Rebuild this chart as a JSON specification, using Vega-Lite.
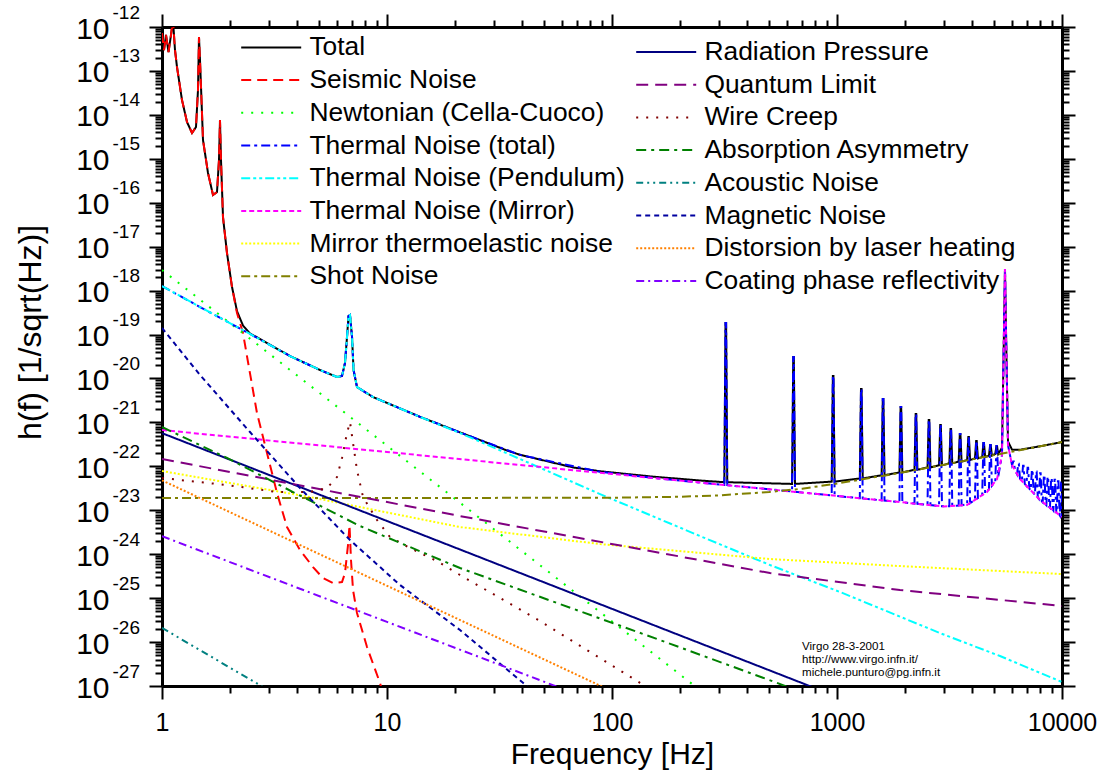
{
"$schema": "https://vega.github.io/schema/vega-lite/v6.json",
"width": 900, "height": 659,
"autosize": {"type": "none"},
"padding": {"left": 162, "top": 27, "right": 42, "bottom": 91},
"background": "white",
"config": {"font": "Liberation Sans", "view": {"stroke": null}, "axis": {"grid": false, "domainColor": "black", "tickColor": "black", "labelColor": "black", "titleColor": "black", "zindex": 1}},
"datasets": {
"g1": [
{"s":"Total","f":1,"h":7.3e-13},{"s":"Total","f":1.0207,"h":2.99e-13},{"s":"Total","f":1.0418,"h":6.58e-13},{"s":"Total","f":1.0688,"h":2.70e-13},{"s":"Total","f":1.0965,"h":6.58e-13},{"s":"Total","f":1.119,"h":1.44e-12},{"s":"Total","f":1.1422,"h":2.99e-13},{"s":"Total","f":1.1659,"h":1.23e-13},{"s":"Total","f":1.227,"h":2.18e-14},{"s":"Total","f":1.2915,"h":6.88e-15},{"s":"Total","f":1.3594,"h":3.86e-15},{"s":"Total","f":1.4161,"h":5.29e-15},{"s":"Total","f":1.4454,"h":3.68e-14},{"s":"Total","f":1.4603,"h":5.92e-13},{"s":"Total","f":1.4753,"h":1.77e-13},{"s":"Total","f":1.4982,"h":2.18e-14},{"s":"Total","f":1.5213,"h":2.68e-15},{"s":"Total","f":1.6013,"h":4.75e-16},{"s":"Total","f":1.6853,"h":1.50e-16},{"s":"Total","f":1.7556,"h":1.75e-16},{"s":"Total","f":1.7919,"h":9.38e-16},{"s":"Total","f":1.8103,"h":7.64e-15},{"s":"Total","f":1.8289,"h":9.38e-16},{"s":"Total","f":1.8667,"h":4.73e-17},{"s":"Total","f":1.9446,"h":7.17e-18},{"s":"Total","f":2.0468,"h":1.22e-18},{"s":"Total","f":2.1544,"h":3.4e-19},{"s":"Total","f":2.2909,"h":1.6e-19},{"s":"Total","f":2.4604,"h":1.06e-19},{"s":"Total","f":3.7055,"h":3.24e-20},{"s":"Total","f":5.0372,"h":1.56e-20},{"s":"Total","f":5.9948,"h":1.08e-20},{"s":"Total","f":6.3096,"h":1.14e-20},{"s":"Total","f":6.506,"h":2.25e-20},{"s":"Total","f":6.6418,"h":8.78e-20},{"s":"Total","f":6.7444,"h":2.64e-19},{"s":"Total","f":6.848,"h":2.78e-19},{"s":"Total","f":6.992,"h":8.78e-20},{"s":"Total","f":7.1007,"h":1.56e-20},{"s":"Total","f":7.3564,"h":6.38e-21},{"s":"Total","f":8.6638,"h":3.78e-21},{"s":"Total","f":14.017,"h":1.34e-21},{"s":"Total","f":21.108,"h":5.92e-22},{"s":"Total","f":34.1,"h":2.3e-22},{"s":"Total","f":39.007,"h":1.83e-22},{"s":"Total","f":67.1,"h":9.45e-23},{"s":"Total","f":88.44,"h":7.73e-23},{"s":"Total","f":150,"h":5.86e-23},{"s":"Total","f":246,"h":4.76e-23},
{"s":"Total","f":315.7,"h":4.35e-23},{"s":"Total","f":319.5,"h":1.83e-19},{"s":"Total","f":321.5,"h":1.83e-19},{"s":"Total","f":325.3,"h":4.35e-23},
{"s":"Total","f":631.4,"h":3.98e-23},{"s":"Total","f":639.1,"h":3.08e-20},{"s":"Total","f":642.9,"h":3.08e-20},{"s":"Total","f":650.6,"h":3.98e-23},
{"s":"Total","f":947.1,"h":4.48e-23},{"s":"Total","f":958.6,"h":1.14e-20},{"s":"Total","f":964.4,"h":1.14e-20},{"s":"Total","f":975.9,"h":4.48e-23},
{"s":"Total","f":1262.8,"h":5.3e-23},{"s":"Total","f":1278.2,"h":5.75e-21},{"s":"Total","f":1285.8,"h":5.75e-21},{"s":"Total","f":1301.2,"h":5.3e-23},
{"s":"Total","f":1578.5,"h":6.26e-23},{"s":"Total","f":1597.7,"h":3.4e-21},{"s":"Total","f":1607.3,"h":3.4e-21},{"s":"Total","f":1626.5,"h":6.26e-23},
{"s":"Total","f":1894.2,"h":7.29e-23},{"s":"Total","f":1917.2,"h":2.24e-21},{"s":"Total","f":1928.8,"h":2.24e-21},{"s":"Total","f":1951.8,"h":7.29e-23},
{"s":"Total","f":2209.8,"h":8.35e-23},{"s":"Total","f":2236.8,"h":1.55e-21},{"s":"Total","f":2250.2,"h":1.55e-21},{"s":"Total","f":2277.2,"h":8.35e-23},
{"s":"Total","f":2525.5,"h":9.44e-23},{"s":"Total","f":2556.3,"h":1.13e-21},{"s":"Total","f":2571.7,"h":1.13e-21},{"s":"Total","f":2602.5,"h":9.44e-23},
{"s":"Total","f":2841.2,"h":1.055e-22},{"s":"Total","f":2875.8,"h":8.71e-22},{"s":"Total","f":2893.2,"h":8.71e-22},{"s":"Total","f":2927.8,"h":1.055e-22},
{"s":"Total","f":3156.9,"h":1.167e-22},{"s":"Total","f":3195.4,"h":7.06e-22},{"s":"Total","f":3214.6,"h":7.06e-22},{"s":"Total","f":3253.1,"h":1.167e-22},
{"s":"Total","f":3472.6,"h":1.28e-22},{"s":"Total","f":3514.9,"h":5.43e-22},{"s":"Total","f":3536.1,"h":5.43e-22},{"s":"Total","f":3578.4,"h":1.28e-22},
{"s":"Total","f":3788.3,"h":1.394e-22},{"s":"Total","f":3834.5,"h":4.64e-22},{"s":"Total","f":3857.5,"h":4.64e-22},{"s":"Total","f":3903.7,"h":1.394e-22},
{"s":"Total","f":4104,"h":1.511e-22},{"s":"Total","f":4154,"h":3.77e-22},{"s":"Total","f":4179,"h":3.77e-22},{"s":"Total","f":4229,"h":1.511e-22},
{"s":"Total","f":4419.7,"h":1.63e-22},{"s":"Total","f":4473.5,"h":3.39e-22},{"s":"Total","f":4500.5,"h":3.39e-22},{"s":"Total","f":4554.3,"h":1.63e-22},
{"s":"Total","f":4735.4,"h":1.758e-22},{"s":"Total","f":4793.1,"h":3.05e-22},{"s":"Total","f":4821.9,"h":3.05e-22},{"s":"Total","f":4879.6,"h":1.758e-22},
{"s":"Total","f":5051.1,"h":1.909e-22},{"s":"Total","f":5112.6,"h":2.9e-22},{"s":"Total","f":5143.4,"h":2.9e-22},{"s":"Total","f":5204.9,"h":1.909e-22},
{"s":"Total","f":5412,"h":2.65e-22},{"s":"Total","f":5524,"h":1.27e-19},{"s":"Total","f":5580,"h":3.1e-18},{"s":"Total","f":5637,"h":1.27e-19},{"s":"Total","f":5754,"h":3.68e-22},{"s":"Total","f":5995,"h":2.4e-22},{"s":"Total","f":6508,"h":2.39e-22},{"s":"Total","f":7986,"h":2.86e-22},{"s":"Total","f":10000,"h":3.57e-22},

{"s":"Seismic Noise","f":1,"h":7.3e-13},{"s":"Seismic Noise","f":1.0207,"h":2.99e-13},{"s":"Seismic Noise","f":1.0418,"h":6.58e-13},{"s":"Seismic Noise","f":1.0688,"h":2.70e-13},{"s":"Seismic Noise","f":1.0965,"h":6.58e-13},{"s":"Seismic Noise","f":1.119,"h":1.44e-12},{"s":"Seismic Noise","f":1.1422,"h":2.99e-13},{"s":"Seismic Noise","f":1.1659,"h":1.23e-13},{"s":"Seismic Noise","f":1.227,"h":2.18e-14},{"s":"Seismic Noise","f":1.2915,"h":6.88e-15},{"s":"Seismic Noise","f":1.3594,"h":3.86e-15},{"s":"Seismic Noise","f":1.4161,"h":5.29e-15},{"s":"Seismic Noise","f":1.4454,"h":3.68e-14},{"s":"Seismic Noise","f":1.4603,"h":5.92e-13},{"s":"Seismic Noise","f":1.4753,"h":1.77e-13},{"s":"Seismic Noise","f":1.4982,"h":2.18e-14},{"s":"Seismic Noise","f":1.5213,"h":2.68e-15},{"s":"Seismic Noise","f":1.6013,"h":4.75e-16},{"s":"Seismic Noise","f":1.6853,"h":1.50e-16},{"s":"Seismic Noise","f":1.7556,"h":1.75e-16},{"s":"Seismic Noise","f":1.7919,"h":9.38e-16},{"s":"Seismic Noise","f":1.8103,"h":7.64e-15},{"s":"Seismic Noise","f":1.8289,"h":9.38e-16},{"s":"Seismic Noise","f":1.8667,"h":4.73e-17},{"s":"Seismic Noise","f":1.9446,"h":7.17e-18},{"s":"Seismic Noise","f":2.0468,"h":1.21e-18},{"s":"Seismic Noise","f":2.1544,"h":3.09e-19},{"s":"Seismic Noise","f":2.2909,"h":1.08e-19},{"s":"Seismic Noise","f":2.4112,"h":2.37e-20},{"s":"Seismic Noise","f":2.6436,"h":1.63e-21},{"s":"Seismic Noise","f":2.9286,"h":2.01e-22},{"s":"Seismic Noise","f":3.2443,"h":2.47e-23},{"s":"Seismic Noise","f":3.5938,"h":4.15e-24},{"s":"Seismic Noise","f":4.1065,"h":1.24e-24},{"s":"Seismic Noise","f":4.6912,"h":5.1e-25},{"s":"Seismic Noise","f":5.1962,"h":2.86e-25},{"s":"Seismic Noise","f":5.7544,"h":2.2e-25},{"s":"Seismic Noise","f":6.3096,"h":2.32e-25},{"s":"Seismic Noise","f":6.506,"h":3.72e-25},{"s":"Seismic Noise","f":6.71,"h":1.62e-24},{"s":"Seismic Noise","f":6.8129,"h":4.61e-24},{"s":"Seismic Noise","f":6.9183,"h":7.36e-25},{"s":"Seismic Noise","f":7.0639,"h":1.53e-25},{"s":"Seismic Noise","f":7.3564,"h":4.58e-26},{"s":"Seismic Noise","f":8.1504,"h":7.71e-27},{"s":"Seismic Noise","f":9.3086,"h":1.17e-27},{"s":"Seismic Noise","f":9.8,"h":4.8e-28},

{"s":"Newtonian (Cella-Cuoco)","f":1,"h":2.95e-18},{"s":"Newtonian (Cella-Cuoco)","f":10,"h":2.95e-22},{"s":"Newtonian (Cella-Cuoco)","f":100,"h":2.95e-26},{"s":"Newtonian (Cella-Cuoco)","f":250,"h":7.55e-28},

{"s":"Thermal Noise (total)","f":1,"h":1.27e-18},{"s":"Thermal Noise (total)","f":1.4753,"h":4.23e-19},{"s":"Thermal Noise (total)","f":2.4604,"h":1.03e-19},{"s":"Thermal Noise (total)","f":3.7055,"h":3.24e-20},{"s":"Thermal Noise (total)","f":5.0372,"h":1.56e-20},{"s":"Thermal Noise (total)","f":5.9948,"h":1.08e-20},{"s":"Thermal Noise (total)","f":6.3096,"h":1.14e-20},{"s":"Thermal Noise (total)","f":6.506,"h":2.25e-20},{"s":"Thermal Noise (total)","f":6.6418,"h":8.78e-20},{"s":"Thermal Noise (total)","f":6.7444,"h":2.64e-19},{"s":"Thermal Noise (total)","f":6.848,"h":2.78e-19},{"s":"Thermal Noise (total)","f":6.992,"h":8.78e-20},{"s":"Thermal Noise (total)","f":7.1007,"h":1.56e-20},{"s":"Thermal Noise (total)","f":7.3564,"h":6.38e-21},{"s":"Thermal Noise (total)","f":8.6638,"h":3.78e-21},{"s":"Thermal Noise (total)","f":14.017,"h":1.34e-21},{"s":"Thermal Noise (total)","f":21.108,"h":5.91e-22},{"s":"Thermal Noise (total)","f":39.007,"h":1.82e-22},{"s":"Thermal Noise (total)","f":88.44,"h":7.5e-23},{"s":"Thermal Noise (total)","f":150,"h":5.52e-23},{"s":"Thermal Noise (total)","f":246,"h":4.28e-23},
{"s":"Thermal Noise (total)","f":315.7,"h":3.76e-23},{"s":"Thermal Noise (total)","f":319.5,"h":1.83e-19},{"s":"Thermal Noise (total)","f":321.5,"h":1.83e-19},{"s":"Thermal Noise (total)","f":325.3,"h":3.72e-23},
{"s":"Thermal Noise (total)","f":631.4,"h":2.67e-23},{"s":"Thermal Noise (total)","f":639.1,"h":3.08e-20},{"s":"Thermal Noise (total)","f":642.9,"h":3.08e-20},{"s":"Thermal Noise (total)","f":650.6,"h":2.63e-23},
{"s":"Thermal Noise (total)","f":947.1,"h":2.18e-23},{"s":"Thermal Noise (total)","f":958.6,"h":1.14e-20},{"s":"Thermal Noise (total)","f":964.4,"h":1.14e-20},{"s":"Thermal Noise (total)","f":975.9,"h":2.14e-23},
{"s":"Thermal Noise (total)","f":1262.8,"h":1.88e-23},{"s":"Thermal Noise (total)","f":1278.2,"h":5.75e-21},{"s":"Thermal Noise (total)","f":1285.8,"h":5.75e-21},{"s":"Thermal Noise (total)","f":1301.2,"h":1.86e-23},
{"s":"Thermal Noise (total)","f":1578.5,"h":1.68e-23},{"s":"Thermal Noise (total)","f":1597.7,"h":3.4e-21},{"s":"Thermal Noise (total)","f":1607.3,"h":3.4e-21},{"s":"Thermal Noise (total)","f":1626.5,"h":1.66e-23},
{"s":"Thermal Noise (total)","f":1894.2,"h":1.54e-23},{"s":"Thermal Noise (total)","f":1917.2,"h":2.24e-21},{"s":"Thermal Noise (total)","f":1928.8,"h":2.24e-21},{"s":"Thermal Noise (total)","f":1951.8,"h":1.52e-23},
{"s":"Thermal Noise (total)","f":2209.8,"h":1.42e-23},{"s":"Thermal Noise (total)","f":2236.8,"h":1.55e-21},{"s":"Thermal Noise (total)","f":2250.2,"h":1.55e-21},{"s":"Thermal Noise (total)","f":2277.2,"h":1.4e-23},
{"s":"Thermal Noise (total)","f":2525.5,"h":1.33e-23},{"s":"Thermal Noise (total)","f":2556.3,"h":1.13e-21},{"s":"Thermal Noise (total)","f":2571.7,"h":1.13e-21},{"s":"Thermal Noise (total)","f":2602.5,"h":1.31e-23},
{"s":"Thermal Noise (total)","f":2841.2,"h":1.26e-23},{"s":"Thermal Noise (total)","f":2875.8,"h":8.71e-22},{"s":"Thermal Noise (total)","f":2893.2,"h":8.71e-22},{"s":"Thermal Noise (total)","f":2927.8,"h":1.24e-23},
{"s":"Thermal Noise (total)","f":3156.9,"h":1.23e-23},{"s":"Thermal Noise (total)","f":3195.4,"h":7.06e-22},{"s":"Thermal Noise (total)","f":3214.6,"h":7.06e-22},{"s":"Thermal Noise (total)","f":3253.1,"h":1.24e-23},
{"s":"Thermal Noise (total)","f":3472.6,"h":1.28e-23},{"s":"Thermal Noise (total)","f":3514.9,"h":5.43e-22},{"s":"Thermal Noise (total)","f":3536.1,"h":5.43e-22},{"s":"Thermal Noise (total)","f":3578.4,"h":1.3e-23},
{"s":"Thermal Noise (total)","f":3788.3,"h":1.36e-23},{"s":"Thermal Noise (total)","f":3834.5,"h":4.64e-22},{"s":"Thermal Noise (total)","f":3857.5,"h":4.64e-22},{"s":"Thermal Noise (total)","f":3903.7,"h":1.45e-23},
{"s":"Thermal Noise (total)","f":4104,"h":1.74e-23},{"s":"Thermal Noise (total)","f":4154,"h":3.77e-22},{"s":"Thermal Noise (total)","f":4179,"h":3.77e-22},{"s":"Thermal Noise (total)","f":4229,"h":1.9e-23},
{"s":"Thermal Noise (total)","f":4419.7,"h":2.2e-23},{"s":"Thermal Noise (total)","f":4473.5,"h":3.39e-22},{"s":"Thermal Noise (total)","f":4500.5,"h":3.39e-22},{"s":"Thermal Noise (total)","f":4554.3,"h":2.45e-23},
{"s":"Thermal Noise (total)","f":4735.4,"h":3.0e-23},{"s":"Thermal Noise (total)","f":4793.1,"h":3.05e-22},{"s":"Thermal Noise (total)","f":4821.9,"h":3.05e-22},{"s":"Thermal Noise (total)","f":4879.6,"h":3.6e-23},
{"s":"Thermal Noise (total)","f":5051.1,"h":4.5e-23},{"s":"Thermal Noise (total)","f":5112.6,"h":2.9e-22},{"s":"Thermal Noise (total)","f":5143.4,"h":2.9e-22},{"s":"Thermal Noise (total)","f":5204.9,"h":5.8e-23},
{"s":"Thermal Noise (total)","f":5412,"h":1.81e-22},{"s":"Thermal Noise (total)","f":5524,"h":1.27e-19},{"s":"Thermal Noise (total)","f":5580,"h":3.1e-18},{"s":"Thermal Noise (total)","f":5637,"h":1.27e-19},{"s":"Thermal Noise (total)","f":5754,"h":3.05e-22},
{"s":"Thermal Noise (total)","f":5998.2,"h":1.06e-22},{"s":"Thermal Noise (total)","f":6071.2,"h":1.28e-22},{"s":"Thermal Noise (total)","f":6107.8,"h":1.28e-22},{"s":"Thermal Noise (total)","f":6180.8,"h":8.2e-23},
{"s":"Thermal Noise (total)","f":6313.9,"h":6.6e-23},{"s":"Thermal Noise (total)","f":6390.8,"h":1.15e-22},{"s":"Thermal Noise (total)","f":6429.2,"h":1.15e-22},{"s":"Thermal Noise (total)","f":6506.2,"h":5.14e-23},
{"s":"Thermal Noise (total)","f":6629.5,"h":4.6e-23},{"s":"Thermal Noise (total)","f":6710.3,"h":1.03e-22},{"s":"Thermal Noise (total)","f":6750.7,"h":1.03e-22},{"s":"Thermal Noise (total)","f":6831.5,"h":3.98e-23},
{"s":"Thermal Noise (total)","f":6945.2,"h":3.6e-23},{"s":"Thermal Noise (total)","f":7029.8,"h":9.25e-23},{"s":"Thermal Noise (total)","f":7072.2,"h":9.25e-23},{"s":"Thermal Noise (total)","f":7156.8,"h":3.1e-23},
{"s":"Thermal Noise (total)","f":7260.9,"h":2.85e-23},{"s":"Thermal Noise (total)","f":7349.4,"h":8.37e-23},{"s":"Thermal Noise (total)","f":7393.6,"h":8.37e-23},{"s":"Thermal Noise (total)","f":7482.1,"h":2.45e-23},
{"s":"Thermal Noise (total)","f":7576.6,"h":2.25e-23},{"s":"Thermal Noise (total)","f":7668.9,"h":7.59e-23},{"s":"Thermal Noise (total)","f":7715.1,"h":7.59e-23},{"s":"Thermal Noise (total)","f":7807.4,"h":1.95e-23},
{"s":"Thermal Noise (total)","f":7892.3,"h":1.82e-23},{"s":"Thermal Noise (total)","f":7988.5,"h":6.93e-23},{"s":"Thermal Noise (total)","f":8036.5,"h":6.93e-23},{"s":"Thermal Noise (total)","f":8132.7,"h":1.6e-23},
{"s":"Thermal Noise (total)","f":8208,"h":1.52e-23},{"s":"Thermal Noise (total)","f":8308,"h":6.34e-23},{"s":"Thermal Noise (total)","f":8358,"h":6.34e-23},{"s":"Thermal Noise (total)","f":8458,"h":1.37e-23},
{"s":"Thermal Noise (total)","f":8523.7,"h":1.31e-23},{"s":"Thermal Noise (total)","f":8627.5,"h":5.83e-23},{"s":"Thermal Noise (total)","f":8679.5,"h":5.83e-23},{"s":"Thermal Noise (total)","f":8783.3,"h":1.18e-23},
{"s":"Thermal Noise (total)","f":8839.4,"h":1.14e-23},{"s":"Thermal Noise (total)","f":8947.1,"h":5.36e-23},{"s":"Thermal Noise (total)","f":9000.9,"h":5.36e-23},{"s":"Thermal Noise (total)","f":9108.6,"h":1.03e-23},
{"s":"Thermal Noise (total)","f":9155.1,"h":9.9e-24},{"s":"Thermal Noise (total)","f":9266.6,"h":4.95e-23},{"s":"Thermal Noise (total)","f":9322.4,"h":4.95e-23},{"s":"Thermal Noise (total)","f":9433.9,"h":8.9e-24},
{"s":"Thermal Noise (total)","f":9470.8,"h":8.7e-24},{"s":"Thermal Noise (total)","f":9586.2,"h":4.58e-23},{"s":"Thermal Noise (total)","f":9643.8,"h":4.58e-23},{"s":"Thermal Noise (total)","f":9759.2,"h":7.8e-24},
{"s":"Thermal Noise (total)","f":9786.5,"h":7.6e-24},{"s":"Thermal Noise (total)","f":9905.7,"h":4.26e-23},{"s":"Thermal Noise (total)","f":9965.3,"h":4.26e-23},{"s":"Thermal Noise (total)","f":10000,"h":7.0e-24},

{"s":"Thermal Noise (Pendulum)","f":1,"h":1.27e-18},{"s":"Thermal Noise (Pendulum)","f":1.4753,"h":4.23e-19},{"s":"Thermal Noise (Pendulum)","f":2.4604,"h":1.03e-19},{"s":"Thermal Noise (Pendulum)","f":3.7055,"h":3.24e-20},{"s":"Thermal Noise (Pendulum)","f":5.0372,"h":1.56e-20},{"s":"Thermal Noise (Pendulum)","f":5.9948,"h":1.08e-20},{"s":"Thermal Noise (Pendulum)","f":6.3096,"h":1.14e-20},{"s":"Thermal Noise (Pendulum)","f":6.506,"h":2.25e-20},{"s":"Thermal Noise (Pendulum)","f":6.6418,"h":8.78e-20},{"s":"Thermal Noise (Pendulum)","f":6.7444,"h":2.64e-19},{"s":"Thermal Noise (Pendulum)","f":6.848,"h":2.78e-19},{"s":"Thermal Noise (Pendulum)","f":6.992,"h":8.78e-20},{"s":"Thermal Noise (Pendulum)","f":7.1007,"h":1.56e-20},{"s":"Thermal Noise (Pendulum)","f":7.3564,"h":6.38e-21},{"s":"Thermal Noise (Pendulum)","f":8.6638,"h":3.78e-21},{"s":"Thermal Noise (Pendulum)","f":14.017,"h":1.33e-21},{"s":"Thermal Noise (Pendulum)","f":21.108,"h":5.73e-22},{"s":"Thermal Noise (Pendulum)","f":39.007,"h":1.47e-22},{"s":"Thermal Noise (Pendulum)","f":88.44,"h":2.34e-23},{"s":"Thermal Noise (Pendulum)","f":246.04,"h":2.59e-24},{"s":"Thermal Noise (Pendulum)","f":503.7,"h":5.67e-25},{"s":"Thermal Noise (Pendulum)","f":1031.2,"h":1.38e-25},{"s":"Thermal Noise (Pendulum)","f":2869.5,"h":1.6e-26},{"s":"Thermal Noise (Pendulum)","f":5302,"h":4.81e-27},{"s":"Thermal Noise (Pendulum)","f":10000,"h":1.23e-27},

{"s":"Thermal Noise (Mirror)","f":1,"h":6.7e-22},{"s":"Thermal Noise (Mirror)","f":10,"h":2.12e-22},{"s":"Thermal Noise (Mirror)","f":100,"h":6.7e-23},{"s":"Thermal Noise (Mirror)","f":1000,"h":2.12e-23},{"s":"Thermal Noise (Mirror)","f":3000,"h":1.22e-23},{"s":"Thermal Noise (Mirror)","f":3783,"h":1.32e-23},{"s":"Thermal Noise (Mirror)","f":4642,"h":2.6e-23},{"s":"Thermal Noise (Mirror)","f":5143,"h":5.14e-23},{"s":"Thermal Noise (Mirror)","f":5412,"h":1.81e-22},{"s":"Thermal Noise (Mirror)","f":5524,"h":1.27e-19},{"s":"Thermal Noise (Mirror)","f":5580,"h":3.1e-18},{"s":"Thermal Noise (Mirror)","f":5637,"h":1.27e-19},{"s":"Thermal Noise (Mirror)","f":5754,"h":3.05e-22},{"s":"Thermal Noise (Mirror)","f":5995,"h":1.07e-22},{"s":"Thermal Noise (Mirror)","f":6508,"h":5.14e-23},{"s":"Thermal Noise (Mirror)","f":7986,"h":1.71e-23},{"s":"Thermal Noise (Mirror)","f":10000,"h":7.02e-24},

{"s":"Mirror thermoelastic noise","f":1,"h":7.82e-23},{"s":"Mirror thermoelastic noise","f":4.548,"h":2.0e-23},{"s":"Mirror thermoelastic noise","f":21.108,"h":4.15e-24},{"s":"Mirror thermoelastic noise","f":88.44,"h":1.7e-24},{"s":"Mirror thermoelastic noise","f":503.7,"h":7.76e-25},{"s":"Mirror thermoelastic noise","f":1905,"h":5.37e-25},{"s":"Mirror thermoelastic noise","f":10000,"h":3.53e-25},

{"s":"Shot Noise","f":1,"h":1.9e-23},{"s":"Shot Noise","f":10,"h":1.9e-23},{"s":"Shot Noise","f":100,"h":1.93e-23},{"s":"Shot Noise","f":200,"h":2.03e-23},{"s":"Shot Noise","f":300,"h":2.18e-23},{"s":"Shot Noise","f":500,"h":2.61e-23},{"s":"Shot Noise","f":700,"h":3.1e-23},{"s":"Shot Noise","f":1000,"h":4.05e-23},{"s":"Shot Noise","f":2000,"h":7.39e-23},{"s":"Shot Noise","f":3000,"h":1.09e-22},{"s":"Shot Noise","f":5000,"h":1.8e-22},{"s":"Shot Noise","f":7000,"h":2.5e-22},{"s":"Shot Noise","f":10000,"h":3.57e-22}
],
"g2": [
{"s":"Radiation Pressure","f":1,"h":5.7e-22},{"s":"Radiation Pressure","f":10,"h":5.7e-24},{"s":"Radiation Pressure","f":100,"h":5.7e-26},{"s":"Radiation Pressure","f":1000,"h":5.7e-28},
{"s":"Quantum Limit","f":1,"h":1.47e-22},{"s":"Quantum Limit","f":21.108,"h":7.39e-24},{"s":"Quantum Limit","f":503.7,"h":3.72e-25},{"s":"Quantum Limit","f":1905,"h":1.53e-25},{"s":"Quantum Limit","f":10000,"h":6.61e-26},
{"s":"Wire Creep","f":1,"h":5.42e-23},{"s":"Wire Creep","f":1.9446,"h":3.75e-23},{"s":"Wire Creep","f":3.2443,"h":2.6e-23},{"s":"Wire Creep","f":4.548,"h":2.6e-23},{"s":"Wire Creep","f":5.4117,"h":3.21e-23},{"s":"Wire Creep","f":5.9948,"h":5.7e-23},{"s":"Wire Creep","f":6.3096,"h":1.55e-22},{"s":"Wire Creep","f":6.6418,"h":5.73e-22},{"s":"Wire Creep","f":6.848,"h":1.02e-21},{"s":"Wire Creep","f":7.0639,"h":3.39e-22},{"s":"Wire Creep","f":7.3564,"h":8.24e-23},{"s":"Wire Creep","f":7.8237,"h":2.0e-23},{"s":"Wire Creep","f":9.029,"h":6.0e-24},{"s":"Wire Creep","f":10.312,"h":2.46e-24},{"s":"Wire Creep","f":12.656,"h":1.38e-24},{"s":"Wire Creep","f":16.681,"h":6.98e-25},{"s":"Wire Creep","f":21.108,"h":3.36e-25},{"s":"Wire Creep","f":47.86,"h":3.01e-26},{"s":"Wire Creep","f":133.2,"h":1.18e-27},{"s":"Wire Creep","f":163.4,"h":6.3e-28},
{"s":"Absorption Asymmetry","f":1,"h":7.85e-22},{"s":"Absorption Asymmetry","f":1.9446,"h":1.55e-22},{"s":"Absorption Asymmetry","f":3.8222,"h":2.6e-23},{"s":"Absorption Asymmetry","f":7.5858,"h":4.38e-24},{"s":"Absorption Asymmetry","f":21.108,"h":4.84e-25},{"s":"Absorption Asymmetry","f":58.73,"h":7.33e-26},{"s":"Absorption Asymmetry","f":163.4,"h":1.11e-26},{"s":"Absorption Asymmetry","f":541.2,"h":1.18e-27},{"s":"Absorption Asymmetry","f":684.8,"h":7.3e-28},
{"s":"Acoustic Noise","f":1,"h":2.1e-26},{"s":"Acoustic Noise","f":3,"h":7.8e-28},
{"s":"Magnetic Noise","f":1,"h":1.41e-19},{"s":"Magnetic Noise","f":1.4753,"h":1.2e-20},{"s":"Magnetic Noise","f":2.4604,"h":6.04e-22},{"s":"Magnetic Noise","f":4.1065,"h":3.21e-23},{"s":"Magnetic Noise","f":6.848,"h":2.1e-24},{"s":"Magnetic Noise","f":11.42,"h":1.99e-25},{"s":"Magnetic Noise","f":21.108,"h":1.88e-26},{"s":"Magnetic Noise","f":40.22,"h":1.18e-27},{"s":"Magnetic Noise","f":58.7,"h":1.86e-28},
{"s":"Distorsion by laser heating","f":1,"h":4.8e-23},{"s":"Distorsion by laser heating","f":10,"h":1.91e-25},{"s":"Distorsion by laser heating","f":100,"h":7.6e-28},
{"s":"Coating phase reflectivity","f":1,"h":2.57e-24},{"s":"Coating phase reflectivity","f":10,"h":2.88e-26},{"s":"Coating phase reflectivity","f":100,"h":3.22e-28}
]
},
"resolve": {"scale": {"color": "independent", "strokeDash": "independent"}, "axis": {"x": "independent", "y": "independent"}},
"layer": [
{
"data": {"name": "g1"},
"mark": {"type": "line", "clip": true, "strokeWidth": 2},
"encoding": {
"x": {"field": "f", "type": "quantitative", "scale": {"type": "log", "domain": [1, 10000], "nice": false},
 "axis": {"orient": "bottom", "values": [1, 10, 100, 1000, 10000], "format": "d", "tickSize": 13, "tickWidth": 2, "domainWidth": 3, "labelFontSize": 25, "labelPadding": 11, "labelFlush": false, "labelOverlap": false, "labelBound": false, "title": "Frequency [Hz]", "titleFontSize": 30, "titleFontWeight": "normal", "titleX": 450, "titleY": 77, "titleBaseline": "alphabetic", "titleAlign": "center"}},
"y": {"field": "h", "type": "quantitative", "scale": {"type": "log", "domain": [1e-27, 1e-12], "nice": false},
 "axis": {"orient": "left", "values": [1e-27,1e-26,1e-25,1e-24,1e-23,1e-22,1e-21,1e-20,1e-19,1e-18,1e-17,1e-16,1e-15,1e-14,1e-13,1e-12], "tickSize": 13, "tickWidth": 2, "domainWidth": 3, "labelExpr": "'10'", "labelFontSize": 30, "labelPadding": 40, "labelBaseline": "middle", "labelOffset": 2, "labelOverlap": false, "labelBound": false, "labelFlush": false, "title": "h(f)  [1/sqrt(Hz)]", "titleFontSize": 32, "titleFontWeight": "normal", "titleAngle": 270, "titleX": -122, "titleY": 305, "titleBaseline": "alphabetic", "titleAlign": "center"}},
"color": {"field": "s", "type": "nominal",
 "scale": {"domain": ["Total", "Seismic Noise", "Newtonian (Cella-Cuoco)", "Thermal Noise (total)", "Thermal Noise (Pendulum)", "Thermal Noise (Mirror)", "Mirror thermoelastic noise", "Shot Noise"],
  "range": ["#000000", "#ff0000", "#00ff00", "#0000ff", "#00ffff", "#ff00ff", "#ffff00", "#808000"]},
 "legend": {"orient": "none", "legendX": 66, "legendY": 7.2, "title": null, "symbolType": "M0,0H6", "symbolSize": 400, "symbolStrokeWidth": 2, "labelFontSize": 26.4, "labelColor": "black", "labelOffset": 55, "rowPadding": 5.7, "padding": 0, "labelLimit": 600}},
"strokeDash": {"field": "s", "type": "nominal",
 "scale": {"domain": ["Total", "Seismic Noise", "Newtonian (Cella-Cuoco)", "Thermal Noise (total)", "Thermal Noise (Pendulum)", "Thermal Noise (Mirror)", "Mirror thermoelastic noise", "Shot Noise"],
  "range": [[1, 0], [10, 6], [2, 8], [9, 4, 3, 4], [9, 3, 3, 3, 3, 3], [5, 3], [2, 2], [9, 4, 3, 4]]},
 "legend": {"orient": "none", "legendX": 66, "legendY": 7.2, "title": null, "symbolType": "M0,0H6", "symbolSize": 400, "symbolStrokeWidth": 2, "labelFontSize": 26.4, "labelColor": "black", "labelOffset": 55, "rowPadding": 5.7, "padding": 0, "labelLimit": 600}}
}
},
{
"data": {"name": "g2"},
"mark": {"type": "line", "clip": true, "strokeWidth": 2},
"encoding": {
"x": {"field": "f", "type": "quantitative", "scale": {"type": "log", "domain": [1, 10000], "nice": false},
 "axis": {"orient": "bottom", "values": [2,3,4,5,6,7,8,9,20,30,40,50,60,70,80,90,200,300,400,500,600,700,800,900,2000,3000,4000,5000,6000,7000,8000,9000], "tickSize": 7, "tickWidth": 2, "domain": false, "labels": false, "title": null}},
"y": {"field": "h", "type": "quantitative", "scale": {"type": "log", "domain": [1e-27, 1e-12], "nice": false},
 "axis": {"orient": "left", "values": [2e-27,3e-27,4e-27,5e-27,6e-27,7e-27,8e-27,9e-27,2e-26,3e-26,4e-26,5e-26,6e-26,7e-26,8e-26,9e-26,2e-25,3e-25,4e-25,5e-25,6e-25,7e-25,8e-25,9e-25,2e-24,3e-24,4e-24,5e-24,6e-24,7e-24,8e-24,9e-24,2e-23,3e-23,4e-23,5e-23,6e-23,7e-23,8e-23,9e-23,2e-22,3e-22,4e-22,5e-22,6e-22,7e-22,8e-22,9e-22,2e-21,3e-21,4e-21,5e-21,6e-21,7e-21,8e-21,9e-21,2e-20,3e-20,4e-20,5e-20,6e-20,7e-20,8e-20,9e-20,2e-19,3e-19,4e-19,5e-19,6e-19,7e-19,8e-19,9e-19,2e-18,3e-18,4e-18,5e-18,6e-18,7e-18,8e-18,9e-18,2e-17,3e-17,4e-17,5e-17,6e-17,7e-17,8e-17,9e-17,2e-16,3e-16,4e-16,5e-16,6e-16,7e-16,8e-16,9e-16,2e-15,3e-15,4e-15,5e-15,6e-15,7e-15,8e-15,9e-15,2e-14,3e-14,4e-14,5e-14,6e-14,7e-14,8e-14,9e-14,2e-13,3e-13,4e-13,5e-13,6e-13,7e-13,8e-13,9e-13], "tickSize": 7, "tickWidth": 2, "domain": false, "labels": false, "title": null}},
"color": {"field": "s", "type": "nominal",
 "scale": {"domain": ["Radiation Pressure", "Quantum Limit", "Wire Creep", "Absorption Asymmetry", "Acoustic Noise", "Magnetic Noise", "Distorsion by laser heating", "Coating phase reflectivity"],
  "range": ["#000080", "#800080", "#800000", "#008000", "#008080", "#0000a0", "#ff8000", "#8000ff"]},
 "legend": {"orient": "none", "legendX": 461, "legendY": 11.8, "title": null, "symbolType": "M0,0H6", "symbolSize": 400, "symbolStrokeWidth": 2, "labelFontSize": 26.4, "labelColor": "black", "labelOffset": 55, "rowPadding": 5.7, "padding": 0, "labelLimit": 600}},
"strokeDash": {"field": "s", "type": "nominal",
 "scale": {"domain": ["Radiation Pressure", "Quantum Limit", "Wire Creep", "Absorption Asymmetry", "Acoustic Noise", "Magnetic Noise", "Distorsion by laser heating", "Coating phase reflectivity"],
  "range": [[1, 0], [12, 7], [2, 8], [10, 5, 3, 5], [7, 4, 2, 4, 2, 4], [5, 4], [2, 2], [8, 4, 2, 4]]},
 "legend": {"orient": "none", "legendX": 461, "legendY": 11.8, "title": null, "symbolType": "M0,0H6", "symbolSize": 400, "symbolStrokeWidth": 2, "labelFontSize": 26.4, "labelColor": "black", "labelOffset": 55, "rowPadding": 5.7, "padding": 0, "labelLimit": 600}}
}
},
{
"data": {"values": [{"t": "Virgo 28-3-2001"}]},
"mark": {"type": "text", "align": "left", "baseline": "middle", "fontSize": 11.6, "color": "black"},
"encoding": {
"x": {"datum": 699, "type": "quantitative", "scale": {"type": "log", "domain": [1, 10000], "nice": false},
 "axis": {"orient": "top", "values": [1, 10, 100, 1000, 10000], "tickSize": 13, "tickWidth": 2, "domainWidth": 3, "labels": false, "title": null}},
"y": {"datum": 7.69e-27, "type": "quantitative", "scale": {"type": "log", "domain": [1e-27, 1e-12], "nice": false},
 "axis": {"orient": "right", "values": [1e-27,1e-26,1e-25,1e-24,1e-23,1e-22,1e-21,1e-20,1e-19,1e-18,1e-17,1e-16,1e-15,1e-14,1e-13,1e-12], "tickSize": 13, "tickWidth": 2, "domainWidth": 3, "labels": false, "title": null}},
"text": {"field": "t"}
}
},
{
"data": {"values": [{"t": "http://www.virgo.infn.it/"}]},
"mark": {"type": "text", "align": "left", "baseline": "middle", "fontSize": 11.6, "color": "black"},
"encoding": {
"x": {"datum": 699, "type": "quantitative", "scale": {"type": "log", "domain": [1, 10000], "nice": false},
 "axis": {"orient": "top", "values": [2,3,4,5,6,7,8,9,20,30,40,50,60,70,80,90,200,300,400,500,600,700,800,900,2000,3000,4000,5000,6000,7000,8000,9000], "tickSize": 7, "tickWidth": 2, "domain": false, "labels": false, "title": null}},
"y": {"datum": 3.89e-27, "type": "quantitative", "scale": {"type": "log", "domain": [1e-27, 1e-12], "nice": false},
 "axis": {"orient": "right", "values": [2e-27,3e-27,4e-27,5e-27,6e-27,7e-27,8e-27,9e-27,2e-26,3e-26,4e-26,5e-26,6e-26,7e-26,8e-26,9e-26,2e-25,3e-25,4e-25,5e-25,6e-25,7e-25,8e-25,9e-25,2e-24,3e-24,4e-24,5e-24,6e-24,7e-24,8e-24,9e-24,2e-23,3e-23,4e-23,5e-23,6e-23,7e-23,8e-23,9e-23,2e-22,3e-22,4e-22,5e-22,6e-22,7e-22,8e-22,9e-22,2e-21,3e-21,4e-21,5e-21,6e-21,7e-21,8e-21,9e-21,2e-20,3e-20,4e-20,5e-20,6e-20,7e-20,8e-20,9e-20,2e-19,3e-19,4e-19,5e-19,6e-19,7e-19,8e-19,9e-19,2e-18,3e-18,4e-18,5e-18,6e-18,7e-18,8e-18,9e-18,2e-17,3e-17,4e-17,5e-17,6e-17,7e-17,8e-17,9e-17,2e-16,3e-16,4e-16,5e-16,6e-16,7e-16,8e-16,9e-16,2e-15,3e-15,4e-15,5e-15,6e-15,7e-15,8e-15,9e-15,2e-14,3e-14,4e-14,5e-14,6e-14,7e-14,8e-14,9e-14,2e-13,3e-13,4e-13,5e-13,6e-13,7e-13,8e-13,9e-13], "tickSize": 7, "tickWidth": 2, "domain": false, "labels": false, "title": null}},
"text": {"field": "t"}
}
},
{
"data": {"values": [{"t": "michele.punturo@pg.infn.it"}]},
"mark": {"type": "text", "align": "left", "baseline": "middle", "fontSize": 11.6, "color": "black"},
"encoding": {
"x": {"datum": 699, "type": "quantitative", "scale": {"type": "log", "domain": [1, 10000], "nice": false}, "axis": null},
"y": {"datum": 1.97e-27, "type": "quantitative", "scale": {"type": "log", "domain": [1e-27, 1e-12], "nice": false},
 "axis": {"orient": "left", "values": [1e-27,1e-26,1e-25,1e-24,1e-23,1e-22,1e-21,1e-20,1e-19,1e-18,1e-17,1e-16,1e-15,1e-14,1e-13,1e-12], "ticks": false, "tickSize": 0, "domain": false, "labelExpr": "'-' + round(-log(datum.value)/LN10)", "labelFontSize": 19, "labelAlign": "left", "labelBaseline": "middle", "labelPadding": 50, "labelOffset": -15, "labelOverlap": false, "labelBound": false, "labelFlush": false, "title": null}},
"text": {"field": "t"}
}
}
]
}
